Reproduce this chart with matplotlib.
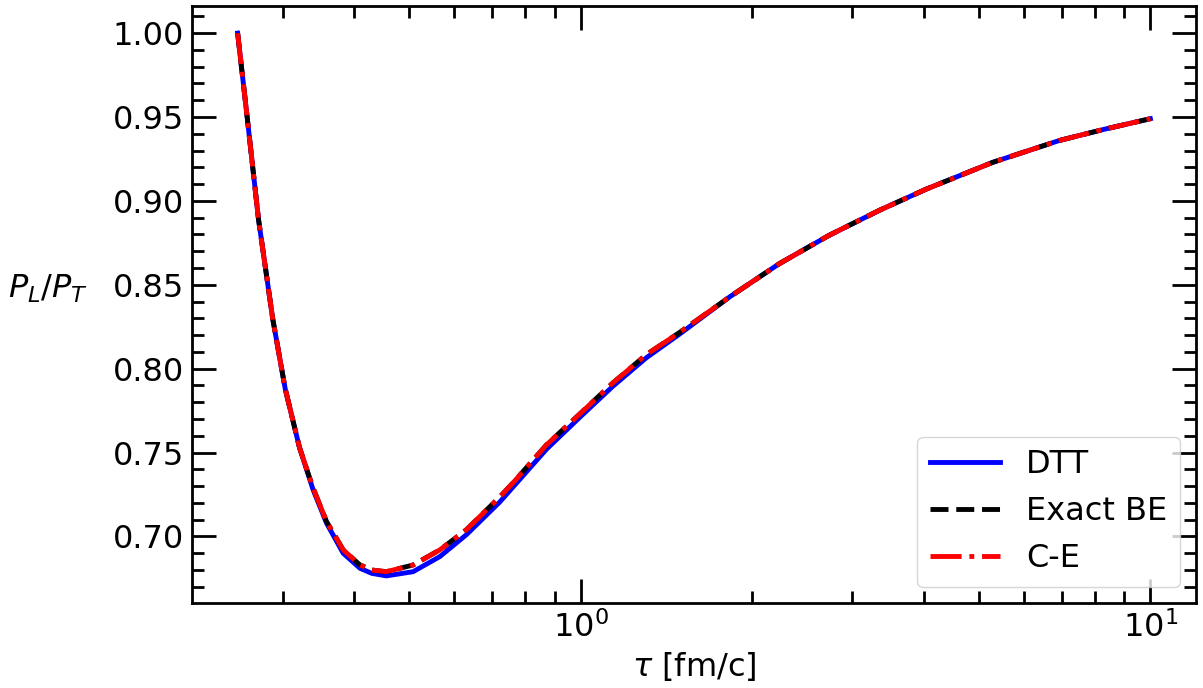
import matplotlib
matplotlib.use('Agg')
import matplotlib.pyplot as plt
from matplotlib.ticker import MultipleLocator, LogLocator, NullFormatter

# values
tau = [0.25, 0.26, 0.272, 0.288, 0.303, 0.321, 0.339, 0.358, 0.383, 0.41,
       0.43, 0.456, 0.508, 0.566, 0.63, 0.721, 0.761, 0.871, 1.0, 1.139,
       1.304, 1.49, 1.83, 2.23, 2.73, 3.35, 4.04, 5.29, 6.92, 8.3, 10.0]

dtt = [1.000, 0.949, 0.889, 0.830, 0.788, 0.753, 0.728, 0.708, 0.690, 0.681,
       0.678, 0.6765, 0.679, 0.688, 0.701, 0.7205, 0.7295, 0.752, 0.7715, 0.7895,
       0.8065, 0.8205, 0.843, 0.8625, 0.8795, 0.8945, 0.907, 0.923, 0.936, 0.9427, 0.949]

exact_be = [1.000, 0.949, 0.889, 0.830, 0.788, 0.753, 0.729, 0.709, 0.692, 0.683,
            0.680, 0.679, 0.683, 0.692, 0.704, 0.7235, 0.732, 0.7546, 0.7735, 0.7915,
            0.8084, 0.8215, 0.843, 0.8625, 0.8795, 0.8945, 0.907, 0.923, 0.936, 0.9427, 0.949]

c_e = [1.000, 0.949, 0.889, 0.830, 0.788, 0.753, 0.729, 0.709, 0.692, 0.683,
       0.680, 0.679, 0.683, 0.692, 0.704, 0.7235, 0.732, 0.7546, 0.7735, 0.7915,
       0.8084, 0.8215, 0.843, 0.8625, 0.8795, 0.8945, 0.907, 0.923, 0.936, 0.9427, 0.949]

FS = 23

fig = plt.figure(figsize=(12.03, 6.88), dpi=100)
ax = fig.add_axes([0.1596, 0.1235, 0.8346, 0.8678])

ax.plot(tau, dtt, color='blue', lw=3.5, label='DTT')
ax.plot(tau, exact_be, color='black', ls='--', lw=3.5, label='Exact BE')
ax.plot(tau, c_e, color='red', ls='-.', lw=3.5, label='C-E')

ax.set_xscale('log')
ax.yaxis.set_major_locator(MultipleLocator(0.05))
ax.yaxis.set_minor_locator(MultipleLocator(0.01))
ax.xaxis.set_minor_locator(LogLocator(base=10, subs=range(2, 10)))
ax.xaxis.set_minor_formatter(NullFormatter())

ax.tick_params(which='both', direction='in', top=True, right=True,
               labelsize=FS, width=2)
ax.tick_params(which='major', length=17, pad=6)
ax.tick_params(which='minor', length=8.5)
for s in ax.spines.values():
    s.set_linewidth(2)

ax.set_xlabel(r'$\tau$ [fm/c]', fontsize=FS)
ax.set_ylabel(r'$P_L/P_T$', fontsize=FS, rotation=0)
ax.yaxis.set_label_coords(-0.1434, 0.5)

ax.legend(loc='lower right', fontsize=FS, handlelength=2.2)

fig.savefig('out.png', dpi=100)
